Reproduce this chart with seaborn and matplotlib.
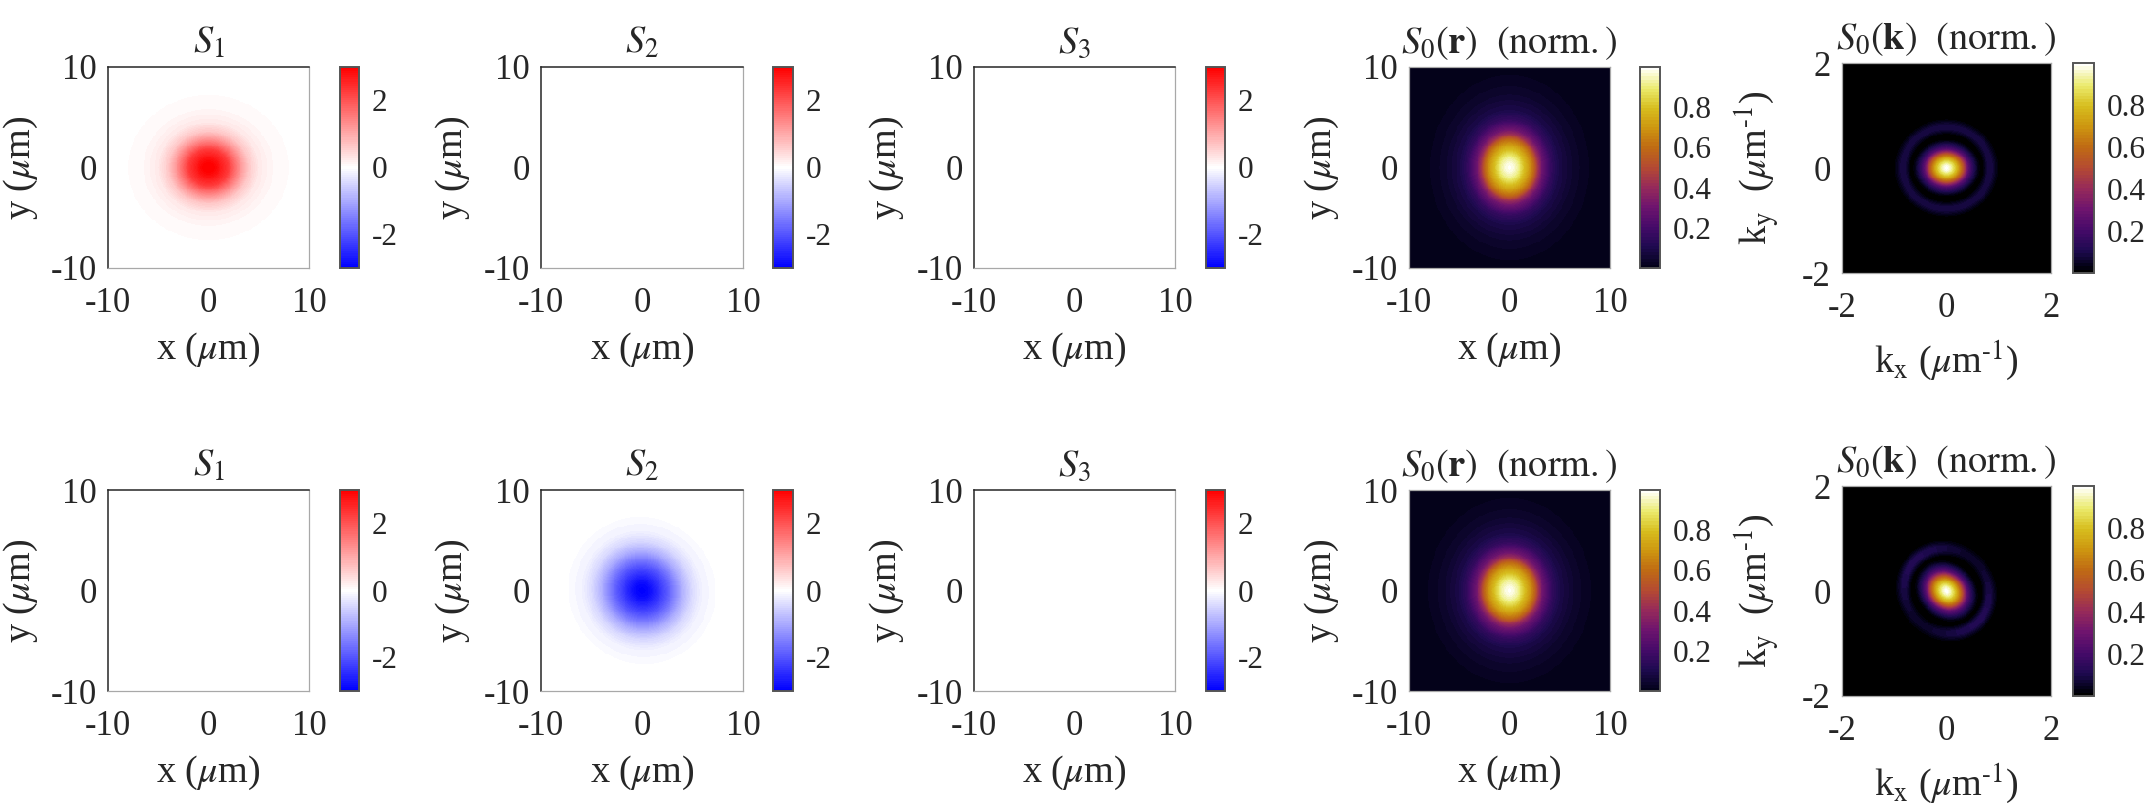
import numpy as np
import pandas as pd
import matplotlib
matplotlib.use("Agg")
import matplotlib.pyplot as plt
from matplotlib.colors import LinearSegmentedColormap
import seaborn as sns

# ---- values (radial profiles along the major axis) ----
s1_r = [0, 0.6, 1, 2, 2.6, 3.3, 4, 5, 6.3, 8, 8.3, 10, 15]
s1_v = [3.0, 2.95, 2.8, 2.3, 1.75, 1.15, 0.65, 0.27, 0.1, 0.035, 0.0, 0.0, 0.0]

s2_r = [0, 0.8, 1.5, 2.5, 3.2, 4, 5, 6, 7.4, 7.7, 10, 15]
s2_v = [-3.0, -2.85, -2.5, -1.95, -1.5, -0.95, -0.45, -0.16, -0.035, 0.0, 0.0, 0.0]

s0r_r = [0, 0.5, 1, 1.5, 2.2, 2.8, 3.3, 3.8, 4.8, 5.8, 7.5, 9.5, 12, 15]
s0r_v = [1.0, 0.97, 0.92, 0.84, 0.72, 0.6, 0.42, 0.3, 0.16, 0.09, 0.04, 0.012, 0.004, 0.0]

s0k_core_r = [0, 0.05, 0.1, 0.2, 0.29, 0.36, 0.43, 0.52, 0.62, 0.68, 3]
s0k_core_v = [1.0, 0.98, 0.93, 0.78, 0.6, 0.42, 0.25, 0.12, 0.02, 0.0, 0.0]

s0k_ring_r = [0, 0.68, 0.72, 0.8, 0.88, 0.95, 1.02, 3]
s0k_ring_v = [0.0, 0.0, 0.03, 0.085, 0.085, 0.04, 0.0, 0.0]

titles = ["$S_1$", "$S_2$", "$S_3$",
          r"$S_0(\mathbf{r})\ \ (\mathrm{norm.})$",
          r"$S_0(\mathbf{k})\ \ (\mathrm{norm.})$"]
r_ticks = [-10, 0, 10]
k_ticks = [-2, 0, 2]
stokes_cbar_ticks = [-2, 0, 2]
s0_cbar_ticks = [0.2, 0.4, 0.6, 0.8]

# ---- style ----
sns.set_theme(style="white")
plt.rcParams["font.family"] = ["Liberation Serif", "DejaVu Serif"]
plt.rcParams["mathtext.fontset"] = "stix"
plt.rcParams["axes.unicode_minus"] = False
plt.rcParams["text.color"] = "#262626"
plt.rcParams["axes.labelcolor"] = "#262626"
plt.rcParams["xtick.color"] = "#262626"
plt.rcParams["ytick.color"] = "#262626"

W, H = 2155, 805
fig = plt.figure(figsize=(W / 100, H / 100), dpi=100, facecolor="white")

rwb = LinearSegmentedColormap.from_list("rwb", ["#0000ff", "#ffffff", "#ff0000"], N=97)
fire = LinearSegmentedColormap.from_list("fire", [
    (0.00, "#04021a"), (0.10, "#1e0a50"), (0.20, "#460a69"), (0.30, "#6e146e"),
    (0.40, "#962a5a"), (0.50, "#b44a32"), (0.60, "#bf6a14"), (0.70, "#cd9610"),
    (0.80, "#d7be1e"), (0.90, "#ebeb6e"), (1.00, "#fffffa")], N=64)
fire_k = LinearSegmentedColormap.from_list("fire_k", [
    (0.00, "#000000"), (0.03, "#04021a"), (0.10, "#1e0a50"), (0.20, "#460a69"), (0.30, "#6e146e"),
    (0.40, "#962a5a"), (0.50, "#b44a32"), (0.60, "#bf6a14"), (0.70, "#cd9610"),
    (0.80, "#d7be1e"), (0.90, "#ebeb6e"), (1.00, "#fffffa")], N=64)


def polar(lim, tilt, ratio, n=220):
    xs = np.linspace(-lim, lim, n)
    ys = np.linspace(lim, -lim, n)
    X, Y = np.meshgrid(xs, ys)
    t = np.deg2rad(tilt)
    U = X * np.cos(t) + Y * np.sin(t)
    V = -X * np.sin(t) + Y * np.cos(t)
    return np.sqrt(U ** 2 + (V / ratio) ** 2), np.arctan2(V, U)


def stokes_field(r, v, tilt, ratio):
    rho, _ = polar(10, tilt, ratio)
    return np.interp(rho, r, v)


def blank():
    return np.zeros((220, 220))


def k_field(tilt, ratio_core, ratio_ring, lobes):
    rho_c, _ = polar(2, tilt, ratio_core)
    rho_r, th = polar(2, tilt, ratio_ring)
    mod = 1 + lobes * np.cos(2 * th)
    return np.interp(rho_c, s0k_core_r, s0k_core_v) + np.interp(rho_r, s0k_ring_r, s0k_ring_v) * mod


rows = [
    dict(top=67, k_top=63, fields=[
        stokes_field(s1_r, s1_v, 0, 0.90), blank(), blank(),
        stokes_field(s0r_r, s0r_v, 90, 0.86), k_field(0, 0.85, 0.93, 0.0)]),
    dict(top=490, k_top=486, fields=[
        blank(), stokes_field(s2_r, s2_v, -45, 0.97), blank(),
        stokes_field(s0r_r, s0r_v, 90, 0.88), k_field(-40, 0.85, 0.94, 0.35)]),
]
col_x = [(108, 309, 340, 359), (541, 743, 773, 793), (974, 1175, 1206, 1225),
         (1409, 1610, 1640, 1660), (1842, 2051, 2073, 2094)]


def pix_axes(x0, x1, y0, y1):
    return fig.add_axes([x0 / W, 1 - y1 / H, (x1 - x0) / W, (y1 - y0) / H])


for row in rows:
    for c, (x0, x1, cx0, cx1) in enumerate(col_x):
        is_k = c == 4
        top = row["k_top"] if is_k else row["top"]
        h = 210 if is_k else 201
        ax = pix_axes(x0, x1, top, top + h)
        cax = pix_axes(cx0, cx1, top, top + h)
        field = pd.DataFrame(row["fields"][c])
        if c < 3:
            cmap, vmin, vmax, cticks = rwb, -3, 3, stokes_cbar_ticks
        else:
            cmap, vmin, vmax, cticks = (fire_k if is_k else fire), 0, 1, s0_cbar_ticks
        sns.heatmap(field, ax=ax, cbar_ax=cax, cmap=cmap, vmin=vmin, vmax=vmax,
                    xticklabels=False, yticklabels=False, rasterized=True,
                    cbar_kws={"ticks": cticks})
        n = field.shape[0]
        ticks = k_ticks if is_k else r_ticks
        lim = ticks[-1]
        tx = [n * (t + lim) / (2 * lim) for t in ticks]
        ty = [n * (lim - t) / (2 * lim) for t in ticks]
        ax.set_xticks(tx)
        ax.set_xticklabels([str(t) for t in ticks], rotation=0, fontsize=25)
        ax.set_yticks(ty)
        ax.set_yticklabels([str(t) for t in ticks], rotation=0, fontsize=25)
        ax.tick_params(axis="x", which="major", direction="in", length=2, width=0.7,
                       color="#777777", top=True, bottom=True, pad=14)
        ax.tick_params(axis="y", which="major", direction="in", length=2, width=0.7,
                       color="#777777", left=True, right=True, pad=8)
        for side, spine in ax.spines.items():
            spine.set_visible(True)
            dark = side in ("left", "top") and c < 3
            spine.set_color("#262626" if dark else "#a8a8a8")
            spine.set_linewidth(1.1 if dark else 0.9)
        ax.set_title(titles[c], fontsize=27.5, pad=10, color="#262626")
        if is_k:
            ax.set_xlabel(r"k$_{\mathrm{x}}$ ($\mu$m$^{\text{-}1}$)", fontsize=27.5)
            ax.set_ylabel(r"k$_{\mathrm{y}}$  ($\mu$m$^{\text{-}1}$)", fontsize=27.5)
        else:
            ax.set_xlabel(r"x ($\mu$m)", fontsize=27.5)
            ax.set_ylabel(r"y ($\mu$m)", fontsize=27.5)
        ax.xaxis.set_label_coords(0.5, -0.31)
        ax.yaxis.set_label_coords(-0.34 if not is_k else -0.29, 0.5)
        cbar = ax.collections[0].colorbar
        cbar.outline.set_edgecolor("#555555")
        cbar.outline.set_linewidth(1.4)
        cbar.ax.tick_params(direction="in", length=2.5, width=0.8, color="#262626",
                            labelsize=22.5, pad=9, right=True)
        labels = [str(t) for t in cticks]
        cbar.ax.set_yticks(cticks)
        cbar.ax.set_yticklabels(labels)

fig.savefig("out.png", dpi=100, facecolor="white")
